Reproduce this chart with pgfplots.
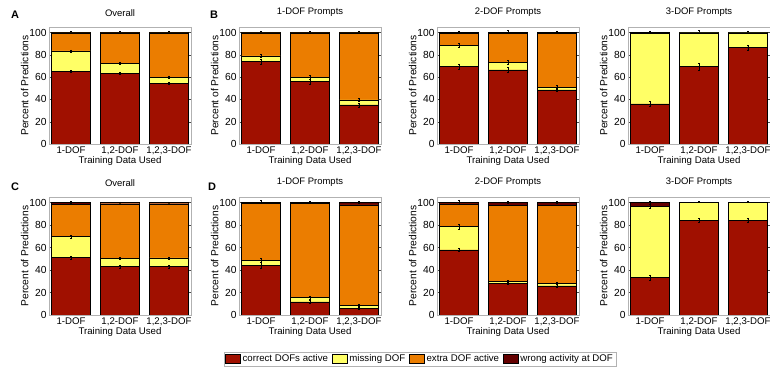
\documentclass[border=0pt]{standalone}
\usepackage{pgfplots}
\pgfplotsset{compat=1.18}
\usepackage{pgfplotstable}
\usepackage{fontspec}
\setmainfont{Liberation Sans}
\definecolor{cCorr}{HTML}{A01000}
\definecolor{cMiss}{HTML}{FFFF66}
\definecolor{cExtra}{HTML}{EB7D00}
\definecolor{cWrong}{HTML}{640000}

% x c ce m me e ee w we
\pgfplotstableread{
x c ce m me e ee w we
0 65.5 0.8 18.0 1.0 16.2 0.0 0.3 1.0
1 63.5 0.8 9.0 1.0 27.2 0.0 0.3 1.0
2 54.5 0.8 5.5 1.0 39.7 0.0 0.3 1.0
}\dataA
\pgfplotstableread{
x c ce m me e ee w we
0 74.0 2.5 5.0 1.5 20.7 0.0 0.3 1.2
1 56.0 2.0 4.0 1.5 39.7 0.0 0.3 1.2
2 35.0 2.0 4.5 1.5 60.2 0.0 0.3 1.0
}\dataB
\pgfplotstableread{
x c ce m me e ee w we
0 69.5 2.5 19.0 1.5 10.8 0.0 0.7 1.5
1 66.5 2.5 7.0 1.5 26.0 0.0 0.5 1.8
2 48.5 1.5 2.5 1.5 48.0 0.0 1.0 1.0
}\dataBB
\pgfplotstableread{
x c ce m me e ee w we
0 36.0 2.5 63.0 0.0 0.0 0.0 1.0 1.5
1 69.5 3.0 30.2 0.0 0.0 0.0 0.3 1.8
2 86.5 2.0 13.3 0.0 0.0 0.0 0.2 1.5
}\dataBBB
\pgfplotstableread{
x c ce m me e ee w we
0 51.0 1.0 18.7 1.0 28.8 0.0 1.5 1.0
1 43.0 1.5 7.2 1.0 48.8 0.0 1.0 0.6
2 43.0 1.5 7.8 1.0 48.2 0.0 1.0 0.6
}\dataC
\pgfplotstableread{
x c ce m me e ee w we
0 44.0 2.5 4.6 1.5 51.0 0.0 0.4 2.0
1 11.7 1.5 3.9 1.2 84.0 0.0 0.4 0.8
2 6.0 1.0 2.7 1.2 89.2 0.0 2.1 0.8
}\dataD
\pgfplotstableread{
x c ce m me e ee w we
0 58.0 1.5 20.7 2.0 20.1 0.0 1.2 2.5
1 28.0 1.0 1.7 1.0 67.9 0.0 2.4 0.8
2 26.0 1.0 2.0 1.0 69.5 0.0 2.5 0.8
}\dataDD
\pgfplotstableread{
x c ce m me e ee w we
0 33.3 2.5 63.4 1.5 0.0 0.0 3.3 1.5
1 84.4 1.5 15.6 0.0 0.0 0.0 0.0 1.2
2 84.4 1.5 15.6 0.0 0.0 0.0 0.0 1.5
}\dataDDD

\pgfplotsset{
  panel/.style={
    width=142bp, scale only axis,
    ybar stacked, bar width=0.8,
    xmin=-0.45, xmax=2.45, ymin=0, ymax=105,
    xtick={0,1,2}, xticklabels={{1-DOF},{1,2-DOF},{1,2,3-DOF}},
    ytick={0,20,40,60,80,100},
    xtick style={draw=none},
    ytick style={black!70, line width=0.4pt},
    tick align=inside, major tick length=2.5bp,
    axis line style={black!30, line width=0.5pt},
    /pgf/number format/assume math mode=true,
    xticklabel style={font=\fontsize{9.7}{10}\selectfont, yshift=1bp},
    yticklabel style={font=\fontsize{10.3}{11}\selectfont, xshift=1bp},
    xlabel style={font=\fontsize{9.7}{10}\selectfont, yshift=5bp},
    ylabel style={font=\fontsize{10.3}{11}\selectfont, yshift=-6bp},
    title style={font=\fontsize{9.5}{10}\selectfont, yshift=1bp},
    xlabel={Training Data Used},
    ylabel={Percent of Predictions},
    error bars/error bar style={black, line width=0.5pt},
    error bars/error mark options={rotate=90, mark size=0.9bp, black, line width=0.5pt},
  },
  seg/.style={draw=black, line width=0.45pt, fill=#1},
}

\newcommand{\stackbars}[1]{%
  \addplot[seg=cCorr, error bars/.cd, y dir=both, y explicit] table[x=x, y=c, y error=ce] {#1};
  \addplot[seg=cMiss, error bars/.cd, y dir=both, y explicit] table[x=x, y=m, y error=me] {#1};
  \addplot[seg=cExtra] table[x=x, y=e] {#1};
  \addplot[seg=cWrong, error bars/.cd, y dir=both, y explicit] table[x=x, y=w, y error=we] {#1};
}

\begin{document}
\begin{tikzpicture}
\useasboundingbox (0,0) rectangle (770bp,371bp);
% row 1
\begin{axis}[panel, height=117bp, at={(49bp,227bp)}, title={Overall}]
\stackbars{\dataA}
\end{axis}
\begin{axis}[panel, height=117bp, at={(239bp,227bp)}, title={1-DOF Prompts}]
\stackbars{\dataB}
\end{axis}
\begin{axis}[panel, height=117bp, at={(437bp,227bp)}, title={2-DOF Prompts}]
\stackbars{\dataBB}
\end{axis}
\begin{axis}[panel, height=117bp, at={(628bp,227bp)}, title={3-DOF Prompts}]
\stackbars{\dataBBB}
\end{axis}
% row 2
\begin{axis}[panel, height=118bp, at={(49bp,56bp)}, title={Overall}]
\stackbars{\dataC}
\end{axis}
\begin{axis}[panel, height=118bp, at={(239bp,56bp)}, title={1-DOF Prompts},
  legend columns=4,
  legend style={at={(1.275,-0.373)}, anchor=center, draw=black!30, fill=white,
    inner sep=1bp, outer sep=0pt, font=\fontsize{9.7}{10}\selectfont,
    /tikz/every even column/.append style={column sep=2bp}},
  legend image code/.code={\draw[#1, draw=black, line width=0.4pt] (0bp,-4bp) rectangle (15bp,5bp);},
  legend cell align=left]
\stackbars{\dataD}
\legend{correct DOFs active, missing DOF, extra DOF active, wrong activity at DOF}
\end{axis}
\begin{axis}[panel, height=118bp, at={(437bp,56bp)}, title={2-DOF Prompts}]
\stackbars{\dataDD}
\end{axis}
\begin{axis}[panel, height=118bp, at={(628bp,56bp)}, title={3-DOF Prompts}]
\stackbars{\dataDDD}
\end{axis}
\node[font=\bfseries\fontsize{11}{12}\selectfont] at (15bp,356bp) {A};
\node[font=\bfseries\fontsize{11}{12}\selectfont] at (214bp,356bp) {B};
\node[font=\bfseries\fontsize{11}{12}\selectfont] at (15bp,184bp) {C};
\node[font=\bfseries\fontsize{11}{12}\selectfont] at (212bp,184bp) {D};
\end{tikzpicture}
\end{document}
